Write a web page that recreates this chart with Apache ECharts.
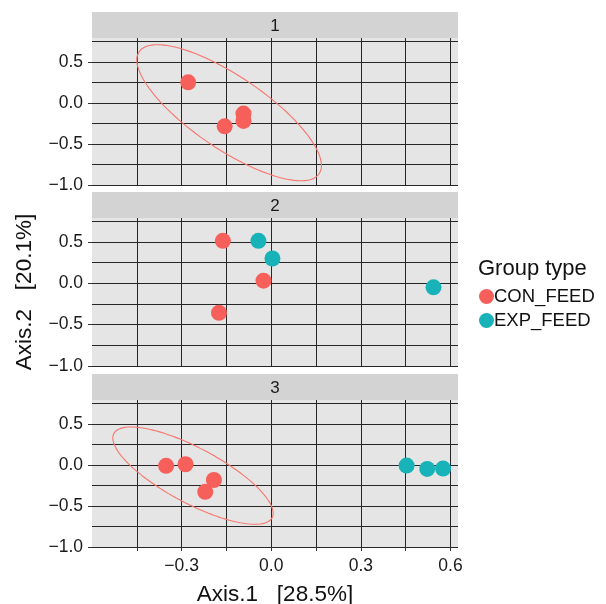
<!DOCTYPE html>
<html><head><meta charset="utf-8">
<script src="https://cdn.jsdelivr.net/npm/echarts@6/dist/echarts.min.js"></script>
<style>html,body{margin:0;padding:0;background:#fff}#c{width:606px;height:604px}</style>
</head><body><div id="c"></div>
<script>
// ---- data ----
const panels = ['1', '2', '3'];
const groups = ['CON_FEED', 'EXP_FEED'];
const conP1 = [[-0.278, 0.25], [-0.156, -0.286], [-0.093, -0.13], [-0.093, -0.22]];
const expP1 = [];
const conP2 = [[-0.162, 0.514], [-0.026, 0.032], [-0.175, -0.357]];
const expP2 = [[-0.043, 0.514], [0.004, 0.30], [0.543, -0.049]];
const conP3 = [[-0.352, -0.012], [-0.287, 0.008], [-0.192, -0.184], [-0.221, -0.328]];
const expP3 = [[0.453, -0.008], [0.522, -0.049], [0.575, -0.045]];
// CON_FEED confidence ellipses: centre and covariance [sxx, sxy, syy] (data units)
const ellCenterP1 = [-0.141, -0.12];
const ellCovP1 = [0.0955, -0.199, 0.686];
const ellCenterP3 = [-0.262, -0.131];
const ellCovP3 = [0.0721, -0.123, 0.351];
const xTickLabels = [-0.3, 0, 0.3, 0.6];
const xTickMarks = [-0.45, -0.3, -0.15, 0, 0.15, 0.3, 0.45, 0.6];
const yTickLabels = [-1, -0.5, 0, 0.5];
const xTitle = 'Axis.1   [28.5%]';
const yTitle = 'Axis.2   [20.1%]';
const legendTitle = 'Group type';

const colors = ['#F65F5A', '#17B3B8'];
const FONT = 'Liberation Sans, Arial, sans-serif';

function ellipse(c, cov) {
  const l11 = Math.sqrt(cov[0]);
  const l21 = cov[1] / l11;
  const l22 = Math.sqrt(cov[2] - l21 * l21);
  const pts = [];
  for (let i = 0; i <= 120; i++) {
    const t = i / 120 * 2 * Math.PI;
    pts.push([c[0] + l11 * Math.cos(t), c[1] + l21 * Math.cos(t) + l22 * Math.sin(t)]);
  }
  return pts;
}
function fmt(v) {
  const s = (Math.abs(v) < 1e-9 ? 0 : v).toFixed(1);
  return s.replace('-', '\u2212');
}

const gridTops = [38, 218, 400];
const gridH = [147, 148, 147];
const L = 92, R = 458;
const stripY = [12, 192, 374];
const XMIN = -0.6, XMAX = 0.625, YMIN = -1, YMAX = 0.79;

const grids = gridTops.map((t, i) => ({
  left: L, width: R - L, top: t, height: gridH[i], outerBoundsMode: 'none', containLabel: false,
  show: true, backgroundColor: '#E5E5E5', borderWidth: 0
}));

const gridLine = { color: '#262626', width: 1 };
const xAxes = [];
const yAxes = [];
panels.forEach((p, i) => {
  // gridline axes
  xAxes.push({
    type: 'value', gridIndex: i, min: XMIN, max: XMAX, interval: 0.15, position: 'bottom',
    axisLine: { show: false, onZero: false }, axisTick: { show: false }, axisLabel: { show: false },
    splitLine: { show: true, interval: 0, showMinLine: false, showMaxLine: false, lineStyle: gridLine }
  });
  yAxes.push({
    type: 'value', gridIndex: i, min: YMIN, max: YMAX, interval: 0.25, position: 'left',
    axisLine: { show: false, onZero: false }, axisTick: { show: false }, axisLabel: { show: false },
    splitLine: { show: true, interval: 0, showMinLine: true, showMaxLine: false, lineStyle: gridLine }
  });
});
panels.forEach((p, i) => {
  // tick / label axes
  xAxes.push({
    type: 'value', gridIndex: i, min: XMIN, max: XMAX, position: 'bottom', show: i === 2,
    axisLine: { show: false, onZero: false },
    axisTick: { show: true, customValues: xTickMarks, length: 4, lineStyle: { color: '#333', width: 1 } },
    axisLabel: { show: true, customValues: xTickLabels, formatter: fmt, fontSize: 17.5, color: '#1a1a1a', fontFamily: FONT, margin: 10 },
    splitLine: { show: false },
    name: i === 2 ? xTitle : '', nameLocation: 'middle', nameGap: 36,
    nameTextStyle: { fontSize: 22.5, color: '#111', fontFamily: FONT }
  });
  yAxes.push({
    type: 'value', gridIndex: i, min: YMIN, max: YMAX, position: 'left',
    axisLine: { show: false, onZero: false },
    axisTick: { show: true, customValues: yTickLabels, length: 4, lineStyle: { color: '#333', width: 1 } },
    axisLabel: { customValues: yTickLabels, formatter: fmt, fontSize: 17.5, color: '#1a1a1a', fontFamily: FONT, margin: 9 },
    splitLine: { show: false },
    name: i === 1 ? yTitle : '', nameLocation: 'middle', nameGap: 56, nameRotate: 90,
    nameTextStyle: { fontSize: 22.5, color: '#111', fontFamily: FONT }
  });
});

const pointSets = [[conP1, expP1], [conP2, expP2], [conP3, expP3]];
const series = [];
pointSets.forEach((sets, i) => {
  sets.forEach((d, g) => {
    series.push({
      type: 'scatter', name: groups[g], xAxisIndex: i, yAxisIndex: i,
      data: d, symbolSize: 16, itemStyle: { color: colors[g], opacity: 1 },
      emphasis: { disabled: true }, z: 3
    });
  });
});
[[0, ellCenterP1, ellCovP1], [2, ellCenterP3, ellCovP3]].forEach(([i, c, cov]) => {
  series.push({
    type: 'line', name: 'ellipse' + i, xAxisIndex: i, yAxisIndex: i,
    data: ellipse(c, cov), showSymbol: false, smooth: false, clip: true,
    lineStyle: { color: '#F8766D', width: 1.1 }, emphasis: { disabled: true }, z: 4
  });
});

const graphics = [];
stripY.forEach((y, i) => {
  graphics.push({ type: 'rect', shape: { x: L, y: y, width: R - L, height: gridTops[i] - y }, style: { fill: '#D3D3D3' }, silent: true });
  graphics.push({ type: 'text', x: (L + R) / 2, y: y + (gridTops[i] - y) / 2 + 1,
    style: { text: panels[i], fill: '#1A1A1A', font: '17px ' + FONT, align: 'center', verticalAlign: 'middle' }, silent: true });
});
graphics.push({ type: 'text', left: 478, top: 258, style: { text: legendTitle, fill: '#111', font: '22px ' + FONT } });

const chart = echarts.init(document.getElementById('c'), null, { renderer: 'canvas' });
chart.setOption({
  animation: false,
  backgroundColor: '#fff',
  grid: grids, xAxis: xAxes, yAxis: yAxes, series: series,
  legend: {
    data: groups, orient: 'vertical', left: 479, top: 287, itemGap: 5, padding: 0,
    itemWidth: 15, itemHeight: 15, icon: 'circle', selectedMode: false,
    textStyle: { fontSize: 18.5, color: '#111', fontFamily: FONT, padding: [0, 0, 0, -5] }
  },
  graphic: graphics
});
</script></body></html>
